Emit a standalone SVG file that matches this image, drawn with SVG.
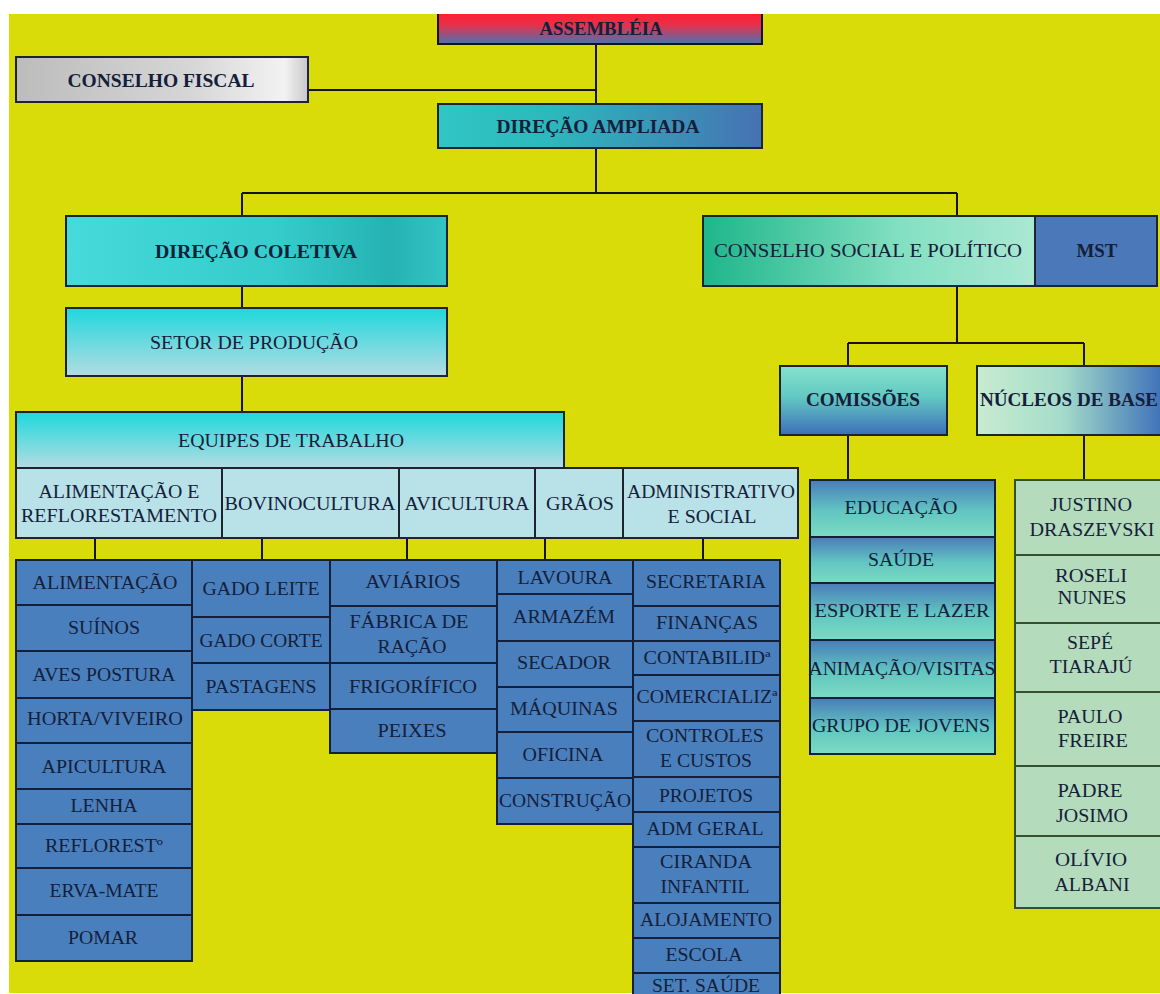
<svg xmlns="http://www.w3.org/2000/svg" width="1160" height="994" viewBox="0 0 1160 994">
<defs>
<linearGradient id="gAssem" x1="0" y1="0" x2="0" y2="1"><stop offset="0" stop-color="#ff2034"/><stop offset="0.35" stop-color="#e8304a"/><stop offset="1" stop-color="#4a72b0"/></linearGradient>
<linearGradient id="gCF" x1="0" y1="0" x2="1" y2="0"><stop offset="0" stop-color="#bcbcbc"/><stop offset="0.6" stop-color="#d6d6d6"/><stop offset="0.92" stop-color="#f2f2f2"/><stop offset="1" stop-color="#c8c8c8"/></linearGradient>
<linearGradient id="gDA" x1="0" y1="0" x2="1" y2="0"><stop offset="0" stop-color="#30c6c4"/><stop offset="0.35" stop-color="#2cb8bc"/><stop offset="1" stop-color="#4672b2"/></linearGradient>
<linearGradient id="gDC" x1="0" y1="0" x2="1" y2="0"><stop offset="0" stop-color="#46dada"/><stop offset="0.55" stop-color="#36cccc"/><stop offset="0.85" stop-color="#26b2b2"/><stop offset="1" stop-color="#34c4c4"/></linearGradient>
<linearGradient id="gSP" x1="0" y1="0" x2="0" y2="1"><stop offset="0" stop-color="#1ed8dc"/><stop offset="1" stop-color="#b4dce2"/></linearGradient>
<linearGradient id="gCSP" x1="0" y1="0" x2="1" y2="0"><stop offset="0" stop-color="#1eb68a"/><stop offset="0.6" stop-color="#84e0c2"/><stop offset="1" stop-color="#aae8d2"/></linearGradient>
<linearGradient id="gCOM" x1="0" y1="0" x2="0" y2="1"><stop offset="0" stop-color="#86e2cc"/><stop offset="0.45" stop-color="#62c8c2"/><stop offset="1" stop-color="#3e6eb8"/></linearGradient>
<linearGradient id="gNB" x1="0" y1="0" x2="1" y2="0"><stop offset="0" stop-color="#c8ecd0"/><stop offset="0.45" stop-color="#a4dcca"/><stop offset="1" stop-color="#3a6cb8"/></linearGradient>
<linearGradient id="gCell" x1="0" y1="0" x2="0" y2="1"><stop offset="0" stop-color="#4a7cb8"/><stop offset="0.55" stop-color="#62c6c2"/><stop offset="1" stop-color="#7adcc2"/></linearGradient>
<style>
.t{font-family:"Liberation Serif","Times New Roman",serif;fill:#14203a;text-anchor:middle}
.b{font-weight:bold;font-size:18px}
.n{font-size:18px}
.h{font-size:19px}
.box{stroke:#1c2430;stroke-width:2}
.cell{fill:#4a7fbd;stroke:#14203a;stroke-width:2}
.sub{fill:#b8e2e8;stroke:#1c2430;stroke-width:2}
.com{fill:url(#gCell);stroke:#14203a;stroke-width:2}
.nuc{fill:#b4dcbc;stroke:#34502c;stroke-width:2}
.c{stroke:#141414;stroke-width:2;fill:none}
</style>
</defs>
<rect x="0" y="0" width="1160" height="994" fill="#ffffff"/>
<rect x="9" y="14" width="1151" height="979" fill="#dadc0a"/>

<g id="connectors">
<path class="c" d="M596 44V104M308 90H596M596 148V193M242 193H957M242 193V216M957 193V216M242 286V308M242 376V412"/>
<path class="c" d="M95 538V560M262 538V560M407 538V560M545 538V560M703 538V560"/>
<path class="c" d="M957 286V343M848 343H1084M848 343V366M1084 343V366M848 435V480M1084 435V480"/>
</g>

<g id="assembleia"><rect x="438" y="14" width="324" height="30" fill="url(#gAssem)"/><path class="c" d="M438 14V44H762V14" stroke="#1c2430"/><text class="t b" x="601" y="35" textLength="123" lengthAdjust="spacingAndGlyphs">ASSEMBLÉIA</text></g>
<g id="conselho-fiscal"><rect class="box" x="16" y="57" width="292" height="45" fill="url(#gCF)"/><text class="t b" x="161" y="87" textLength="187" lengthAdjust="spacingAndGlyphs">CONSELHO FISCAL</text></g>
<g id="direcao-ampliada"><rect class="box" x="438" y="104" width="324" height="44" fill="url(#gDA)"/><text class="t b" x="598" y="133" textLength="203" lengthAdjust="spacingAndGlyphs">DIREÇÃO AMPLIADA</text></g>
<g id="direcao-coletiva"><rect class="box" x="66" y="216" width="381" height="70" fill="url(#gDC)"/><text class="t b" x="256" y="258" textLength="202" lengthAdjust="spacingAndGlyphs">DIREÇÃO COLETIVA</text></g>
<g id="setor-producao"><rect class="box" x="66" y="308" width="381" height="68" fill="url(#gSP)"/><text class="t h" x="254" y="349" textLength="208" lengthAdjust="spacingAndGlyphs">SETOR DE PRODUÇÃO</text></g>
<g id="equipes"><rect class="box" x="16" y="412" width="548" height="56" fill="url(#gSP)"/><text class="t h" x="291" y="447" textLength="226" lengthAdjust="spacingAndGlyphs">EQUIPES DE TRABALHO</text></g>

<g id="sub-alimentacao"><rect class="sub" x="16" y="468" width="206" height="70"/><text class="t h" x="119" y="498" textLength="161" lengthAdjust="spacingAndGlyphs">ALIMENTAÇÃO E</text><text class="t h" x="119" y="522" textLength="196" lengthAdjust="spacingAndGlyphs">REFLORESTAMENTO</text></g>
<g id="sub-bovino"><rect class="sub" x="222" y="468" width="177" height="70"/><text class="t h" x="310" y="510" textLength="171" lengthAdjust="spacingAndGlyphs">BOVINOCULTURA</text></g>
<g id="sub-avicultura"><rect class="sub" x="399" y="468" width="136" height="70"/><text class="t h" x="467" y="510" textLength="125" lengthAdjust="spacingAndGlyphs">AVICULTURA</text></g>
<g id="sub-graos"><rect class="sub" x="535" y="468" width="88" height="70"/><text class="t h" x="580" y="510" textLength="68" lengthAdjust="spacingAndGlyphs">GRÃOS</text></g>
<g id="sub-admin"><rect class="sub" x="623" y="468" width="175" height="70"/><text class="t h" x="711" y="498" textLength="168" lengthAdjust="spacingAndGlyphs">ADMINISTRATIVO</text><text class="t h" x="712" y="523" textLength="89" lengthAdjust="spacingAndGlyphs">E SOCIAL</text></g>

<g id="alimentacao"><rect class="cell" x="16" y="560" width="176" height="45"/><text class="t n" x="105" y="589" textLength="145" lengthAdjust="spacingAndGlyphs">ALIMENTAÇÃO</text></g>
<g id="suinos"><rect class="cell" x="16" y="605" width="176" height="46"/><text class="t n" x="104" y="634" textLength="72" lengthAdjust="spacingAndGlyphs">SUÍNOS</text></g>
<g id="aves-postura"><rect class="cell" x="16" y="651" width="176" height="47"/><text class="t n" x="104" y="681" textLength="143" lengthAdjust="spacingAndGlyphs">AVES POSTURA</text></g>
<g id="horta"><rect class="cell" x="16" y="698" width="176" height="45"/><text class="t n" x="105" y="725" textLength="156" lengthAdjust="spacingAndGlyphs">HORTA/VIVEIRO</text></g>
<g id="apicultura"><rect class="cell" x="16" y="743" width="176" height="46"/><text class="t n" x="104" y="773" textLength="125" lengthAdjust="spacingAndGlyphs">APICULTURA</text></g>
<g id="lenha"><rect class="cell" x="16" y="789" width="176" height="35"/><text class="t n" x="104" y="812" textLength="67" lengthAdjust="spacingAndGlyphs">LENHA</text></g>
<g id="reflorest"><rect class="cell" x="16" y="824" width="176" height="44"/><text class="t n" x="104" y="852" textLength="118" lengthAdjust="spacingAndGlyphs">REFLORESTº</text></g>
<g id="erva-mate"><rect class="cell" x="16" y="868" width="176" height="47"/><text class="t n" x="104" y="897" textLength="109" lengthAdjust="spacingAndGlyphs">ERVA-MATE</text></g>
<g id="pomar"><rect class="cell" x="16" y="915" width="176" height="46"/><text class="t n" x="103" y="944" textLength="70" lengthAdjust="spacingAndGlyphs">POMAR</text></g>

<g id="gado-leite"><rect class="cell" x="192" y="560" width="138" height="57"/><text class="t n" x="261" y="595" textLength="117" lengthAdjust="spacingAndGlyphs">GADO LEITE</text></g>
<g id="gado-corte"><rect class="cell" x="192" y="617" width="138" height="46"/><text class="t n" x="261" y="647" textLength="123" lengthAdjust="spacingAndGlyphs">GADO CORTE</text></g>
<g id="pastagens"><rect class="cell" x="192" y="663" width="138" height="47"/><text class="t n" x="261" y="693" textLength="111" lengthAdjust="spacingAndGlyphs">PASTAGENS</text></g>

<g id="aviarios"><rect class="cell" x="330" y="560" width="167" height="46"/><text class="t n" x="413" y="588" textLength="95" lengthAdjust="spacingAndGlyphs">AVIÁRIOS</text></g>
<g id="fabrica-racao"><rect class="cell" x="330" y="606" width="167" height="57"/><text class="t n" x="409" y="628" textLength="119" lengthAdjust="spacingAndGlyphs">FÁBRICA DE</text><text class="t n" x="412" y="653" textLength="69" lengthAdjust="spacingAndGlyphs">RAÇÃO</text></g>
<g id="frigorifico"><rect class="cell" x="330" y="663" width="167" height="46"/><text class="t n" x="413" y="693" textLength="128" lengthAdjust="spacingAndGlyphs">FRIGORÍFICO</text></g>
<g id="peixes"><rect class="cell" x="330" y="709" width="167" height="44"/><text class="t n" x="412" y="737" textLength="69" lengthAdjust="spacingAndGlyphs">PEIXES</text></g>

<g id="lavoura"><rect class="cell" x="497" y="560" width="136" height="34"/><text class="t n" x="565" y="584" textLength="95" lengthAdjust="spacingAndGlyphs">LAVOURA</text></g>
<g id="armazem"><rect class="cell" x="497" y="594" width="136" height="47"/><text class="t n" x="564" y="623" textLength="102" lengthAdjust="spacingAndGlyphs">ARMAZÉM</text></g>
<g id="secador"><rect class="cell" x="497" y="641" width="136" height="46"/><text class="t n" x="564" y="669" textLength="94" lengthAdjust="spacingAndGlyphs">SECADOR</text></g>
<g id="maquinas"><rect class="cell" x="497" y="687" width="136" height="45"/><text class="t n" x="564" y="715" textLength="108" lengthAdjust="spacingAndGlyphs">MÁQUINAS</text></g>
<g id="oficina"><rect class="cell" x="497" y="732" width="136" height="46"/><text class="t n" x="563" y="761" textLength="81" lengthAdjust="spacingAndGlyphs">OFICINA</text></g>
<g id="construcao"><rect class="cell" x="497" y="778" width="136" height="46"/><text class="t n" x="565" y="807" textLength="132" lengthAdjust="spacingAndGlyphs">CONSTRUÇÃO</text></g>

<g id="secretaria"><rect class="cell" x="633" y="560" width="147" height="46"/><text class="t n" x="706" y="588" textLength="120" lengthAdjust="spacingAndGlyphs">SECRETARIA</text></g>
<g id="financas"><rect class="cell" x="633" y="606" width="147" height="35"/><text class="t n" x="707" y="629" textLength="102" lengthAdjust="spacingAndGlyphs">FINANÇAS</text></g>
<g id="contabilidade"><rect class="cell" x="633" y="641" width="147" height="34"/><text class="t n" x="707" y="664" textLength="127" lengthAdjust="spacingAndGlyphs">CONTABILIDª</text></g>
<g id="comercializacao"><rect class="cell" x="633" y="675" width="147" height="46"/><text class="t n" x="707" y="703" textLength="141" lengthAdjust="spacingAndGlyphs">COMERCIALIZª</text></g>
<g id="controles-custos"><rect class="cell" x="633" y="721" width="147" height="56"/><text class="t n" x="705" y="742" textLength="118" lengthAdjust="spacingAndGlyphs">CONTROLES</text><text class="t n" x="706" y="767" textLength="92" lengthAdjust="spacingAndGlyphs">E CUSTOS</text></g>
<g id="projetos"><rect class="cell" x="633" y="777" width="147" height="35"/><text class="t n" x="706" y="802" textLength="94" lengthAdjust="spacingAndGlyphs">PROJETOS</text></g>
<g id="adm-geral"><rect class="cell" x="633" y="812" width="147" height="35"/><text class="t n" x="705" y="835" textLength="117" lengthAdjust="spacingAndGlyphs">ADM GERAL</text></g>
<g id="ciranda"><rect class="cell" x="633" y="847" width="147" height="56"/><text class="t n" x="706" y="868" textLength="92" lengthAdjust="spacingAndGlyphs">CIRANDA</text><text class="t n" x="705" y="893" textLength="89" lengthAdjust="spacingAndGlyphs">INFANTIL</text></g>
<g id="alojamento"><rect class="cell" x="633" y="903" width="147" height="35"/><text class="t n" x="706" y="926" textLength="132" lengthAdjust="spacingAndGlyphs">ALOJAMENTO</text></g>
<g id="escola"><rect class="cell" x="633" y="938" width="147" height="35"/><text class="t n" x="704" y="961" textLength="77" lengthAdjust="spacingAndGlyphs">ESCOLA</text></g>
<g id="set-saude"><rect class="cell" x="633" y="973" width="147" height="40"/><text class="t n" x="706" y="992" textLength="108" lengthAdjust="spacingAndGlyphs">SET. SAÚDE</text></g>

<g id="conselho-social"><rect class="box" x="703" y="216" width="332" height="70" fill="url(#gCSP)"/><text class="t n" x="868" y="257" textLength="308" lengthAdjust="spacingAndGlyphs">CONSELHO SOCIAL E POLÍTICO</text></g>
<g id="mst"><rect class="box" x="1035" y="216" width="122" height="70" fill="#4a78b8"/><text class="t b" x="1097" y="257" textLength="41" lengthAdjust="spacingAndGlyphs">MST</text></g>
<g id="comissoes"><rect class="box" x="780" y="366" width="167" height="69" fill="url(#gCOM)"/><text class="t b" x="863" y="406" textLength="114" lengthAdjust="spacingAndGlyphs">COMISSÕES</text></g>
<g id="nucleos"><rect class="box" x="977" y="366" width="190" height="69" fill="url(#gNB)"/><text class="t b" x="980" y="406" style="text-anchor:start" textLength="178" lengthAdjust="spacingAndGlyphs">NÚCLEOS DE BASE</text></g>

<g id="educacao"><rect class="com" x="810" y="480" width="185" height="57"/><text class="t n" x="901" y="514" textLength="113" lengthAdjust="spacingAndGlyphs">EDUCAÇÃO</text></g>
<g id="saude"><rect class="com" x="810" y="537" width="185" height="46"/><text class="t n" x="901" y="566" textLength="66" lengthAdjust="spacingAndGlyphs">SAÚDE</text></g>
<g id="esporte"><rect class="com" x="810" y="583" width="185" height="57"/><text class="t n" x="902" y="617" textLength="175" lengthAdjust="spacingAndGlyphs">ESPORTE E LAZER</text></g>
<g id="animacao"><rect class="com" x="810" y="640" width="185" height="58"/><text class="t n" x="902" y="675" textLength="187" lengthAdjust="spacingAndGlyphs">ANIMAÇÃO/VISITAS</text></g>
<g id="grupo-jovens"><rect class="com" x="810" y="698" width="185" height="56"/><text class="t n" x="901" y="732" textLength="178" lengthAdjust="spacingAndGlyphs">GRUPO DE JOVENS</text></g>

<g id="justino"><rect class="nuc" x="1015" y="480" width="150" height="75"/><text class="t n" x="1091" y="511" textLength="82" lengthAdjust="spacingAndGlyphs">JUSTINO</text><text class="t n" x="1092" y="536" textLength="125" lengthAdjust="spacingAndGlyphs">DRASZEVSKI</text></g>
<g id="roseli"><rect class="nuc" x="1015" y="555" width="150" height="68"/><text class="t n" x="1091" y="582" textLength="72" lengthAdjust="spacingAndGlyphs">ROSELI</text><text class="t n" x="1092" y="604" textLength="69" lengthAdjust="spacingAndGlyphs">NUNES</text></g>
<g id="sepe"><rect class="nuc" x="1015" y="623" width="150" height="69"/><text class="t n" x="1090" y="649" textLength="46" lengthAdjust="spacingAndGlyphs">SEPÉ</text><text class="t n" x="1091" y="673" textLength="83" lengthAdjust="spacingAndGlyphs">TIARAJÚ</text></g>
<g id="paulo"><rect class="nuc" x="1015" y="692" width="150" height="74"/><text class="t n" x="1090" y="723" textLength="65" lengthAdjust="spacingAndGlyphs">PAULO</text><text class="t n" x="1093" y="747" textLength="70" lengthAdjust="spacingAndGlyphs">FREIRE</text></g>
<g id="padre"><rect class="nuc" x="1015" y="766" width="150" height="70"/><text class="t n" x="1090" y="797" textLength="65" lengthAdjust="spacingAndGlyphs">PADRE</text><text class="t n" x="1092" y="822" textLength="72" lengthAdjust="spacingAndGlyphs">JOSIMO</text></g>
<g id="olivio"><rect class="nuc" x="1015" y="836" width="150" height="72"/><text class="t n" x="1091" y="866" textLength="72" lengthAdjust="spacingAndGlyphs">OLÍVIO</text><text class="t n" x="1092" y="891" textLength="75" lengthAdjust="spacingAndGlyphs">ALBANI</text></g>
</svg>
